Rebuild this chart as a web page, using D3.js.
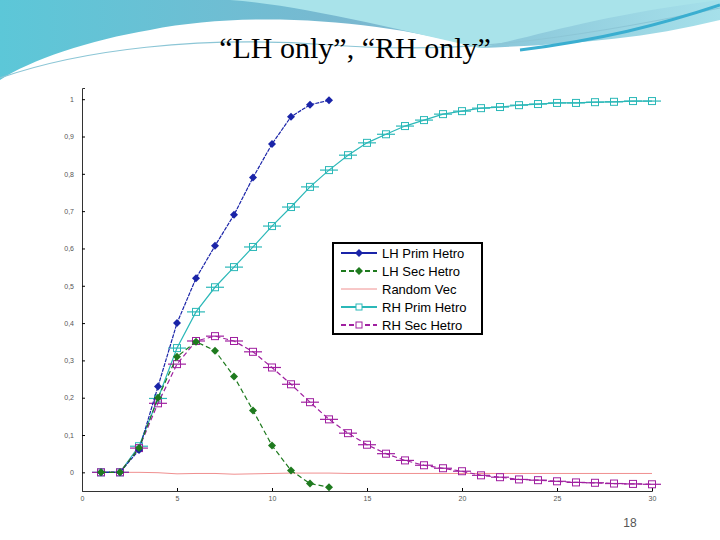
<!DOCTYPE html>
<html><head><meta charset="utf-8">
<script src="https://cdn.jsdelivr.net/npm/d3@7"></script>
<style>body{margin:0;background:#fff}</style></head>
<body><svg id="c" width="720" height="540"></svg>
<script>
const xs = d3.range(1, 31);
const lhPrim = [0,0,0.06,0.23,0.40,0.52,0.607,0.69,0.79,0.88,0.953,0.985,0.997];
const lhSec = [0,0,0.065,0.2,0.31,0.35,0.326,0.257,0.166,0.072,0.005,-0.03,-0.04];
const randomVec = [0,0,0,-0.001,-0.004,-0.003,-0.003,-0.005,-0.004,-0.003,-0.002,-0.002,-0.002,-0.003,-0.003,-0.003,-0.003,-0.003,-0.003,-0.003,-0.003,-0.003,-0.003,-0.003,-0.003,-0.003,-0.003,-0.003,-0.003,-0.003];
const rhPrim = [0,0,0.07,0.198,0.333,0.43,0.496,0.55,0.604,0.66,0.711,0.765,0.81,0.85,0.883,0.906,0.928,0.944,0.96,0.968,0.976,0.979,0.984,0.987,0.99,0.99,0.992,0.993,0.995,0.995];
const rhSec = [0,0,0.065,0.185,0.29,0.352,0.365,0.352,0.323,0.281,0.236,0.188,0.142,0.105,0.074,0.05,0.032,0.019,0.011,0.003,-0.008,-0.013,-0.019,-0.021,-0.024,-0.027,-0.028,-0.03,-0.031,-0.032];
const xTicks = [0,5,10,15,20,25,30];
const yTicks = [0,0.1,0.2,0.3,0.4,0.5,0.6,0.7,0.8,0.9,1];
const yTickLabels = ["0","0,1","0,2","0,3","0,4","0,5","0,6","0,7","0,8","0,9","1"];
const names = ["LH Prim Hetro","LH Sec Hetro","Random Vec","RH Prim Hetro","RH Sec Hetro"];

const svg = d3.select("#c");
// slide header decoration
const defs = svg.append("defs");
const g1 = defs.append("linearGradient").attr("id","hg").attr("x1",0).attr("x2",1);
g1.append("stop").attr("offset",0).attr("stop-color","#5cc7d8");
g1.append("stop").attr("offset",0.5).attr("stop-color","#7ab8d0");
g1.append("stop").attr("offset",1).attr("stop-color","#a6e0ea");
svg.append("path").attr("d","M0,0H720V20C640,40 560,45 480,48C380,20 250,10 150,30C90,40 30,60 0,80Z").attr("fill","url(#hg)");
svg.append("path").attr("d","M230,0C300,5 400,30 480,48C540,35 600,15 720,0Z").attr("fill","#a9e3ea");
svg.append("path").attr("d","M0,78C80,50 200,35 330,45C430,52 520,50 720,8").attr("fill","none").attr("stroke","#8cc6d6").attr("stroke-width",1.2);
svg.append("path").attr("d","M520,50C600,40 660,25 720,5").attr("fill","none").attr("stroke","#3aaed0").attr("stroke-width",3);
svg.append("text").attr("x",355).attr("y",58).attr("text-anchor","middle")
  .attr("font-family","Liberation Serif").attr("font-size",30).text("“LH only”, “RH only”");
svg.append("text").attr("x",630).attr("y",527).attr("text-anchor","middle")
  .attr("font-family","Liberation Sans").attr("font-size",12).attr("fill","#555").text("18");

const x = d3.scaleLinear().domain([0,30]).range([82,652]);
const y = d3.scaleLinear().domain([-0.05,1.03]).range([491,88]);
const ax = svg.append("g").attr("font-family","Liberation Sans").attr("font-size",7).attr("fill","#444");
svg.append("g").attr("transform","translate(0,491)")
  .call(d3.axisBottom(x).tickValues(xTicks).tickSize(-3).tickPadding(5))
  .call(g=>{g.select(".domain").attr("stroke","#333");g.selectAll("text").attr("font-size",7).attr("fill","#555");});
svg.append("g").attr("transform","translate(82,0)")
  .call(d3.axisLeft(y).tickValues(yTicks).tickFormat((d,i)=>yTickLabels[i]).tickSize(-3).tickPadding(8))
  .call(g=>{g.select(".domain").attr("stroke","#333");g.selectAll("text").attr("font-size",7).attr("fill","#555");});

const line = d3.line().x((d,i)=>x(xs[i])).y(d=>y(d));
function series(data, color, dash, marker, w){
  svg.append("path").datum(data).attr("d",line).attr("fill","none").attr("stroke",color)
    .attr("stroke-width",w).attr("stroke-dasharray",dash);
  if(!marker) return;
  const g = svg.append("g");
  data.forEach((d,i)=>{
    const cx=x(xs[i]), cy=y(d);
    if(marker==="d") g.append("path").attr("d",`M${cx},${cy-4}L${cx+4},${cy}L${cx},${cy+4}L${cx-4},${cy}Z`).attr("fill",color);
    else { g.append("rect").attr("x",cx-3.5).attr("y",cy-3.5).attr("width",7).attr("height",7).attr("fill","none").attr("stroke",color);
      g.append("line").attr("x1",cx-9).attr("x2",cx+9).attr("y1",cy).attr("y2",cy).attr("stroke",color).attr("stroke-width",1.2);}
  });
}
const colors=["#1a24a8","#1e7a1e","#f09090","#2bb8b8","#a020a0"];
series(randomVec,colors[2],null,null,1);
series(rhPrim,colors[3],null,"s",1.2);
series(rhSec,colors[4],"5,3","s",1.2);
series(lhPrim,colors[0],"4,1","d",1.2);
series(lhSec,colors[1],"5,3","d",1.2);

// legend
const lg = svg.append("g").attr("transform","translate(333,243)");
lg.append("rect").attr("width",149).attr("height",91).attr("fill","#fff").attr("stroke","#000").attr("stroke-width",2);
const dashes=[null,"5,3",null,null,"5,3"], marks=["d","d",null,"s","s"];
names.forEach((n,i)=>{
  const yy=10+i*18;
  lg.append("line").attr("x1",8).attr("x2",44).attr("y1",yy).attr("y2",yy).attr("stroke",colors[i]).attr("stroke-width",i==2?1:2).attr("stroke-dasharray",dashes[i]);
  if(marks[i]==="d") lg.append("path").attr("d",`M26,${yy-4}L30,${yy}L26,${yy+4}L22,${yy}Z`).attr("fill",colors[i]);
  if(marks[i]==="s") lg.append("rect").attr("x",23).attr("y",yy-3).attr("width",6).attr("height",6).attr("fill","#fff").attr("stroke",colors[i]);
  lg.append("text").attr("x",49).attr("y",yy+5).attr("font-family","Liberation Sans").attr("font-size",13).text(n);
});
</script></body></html>
